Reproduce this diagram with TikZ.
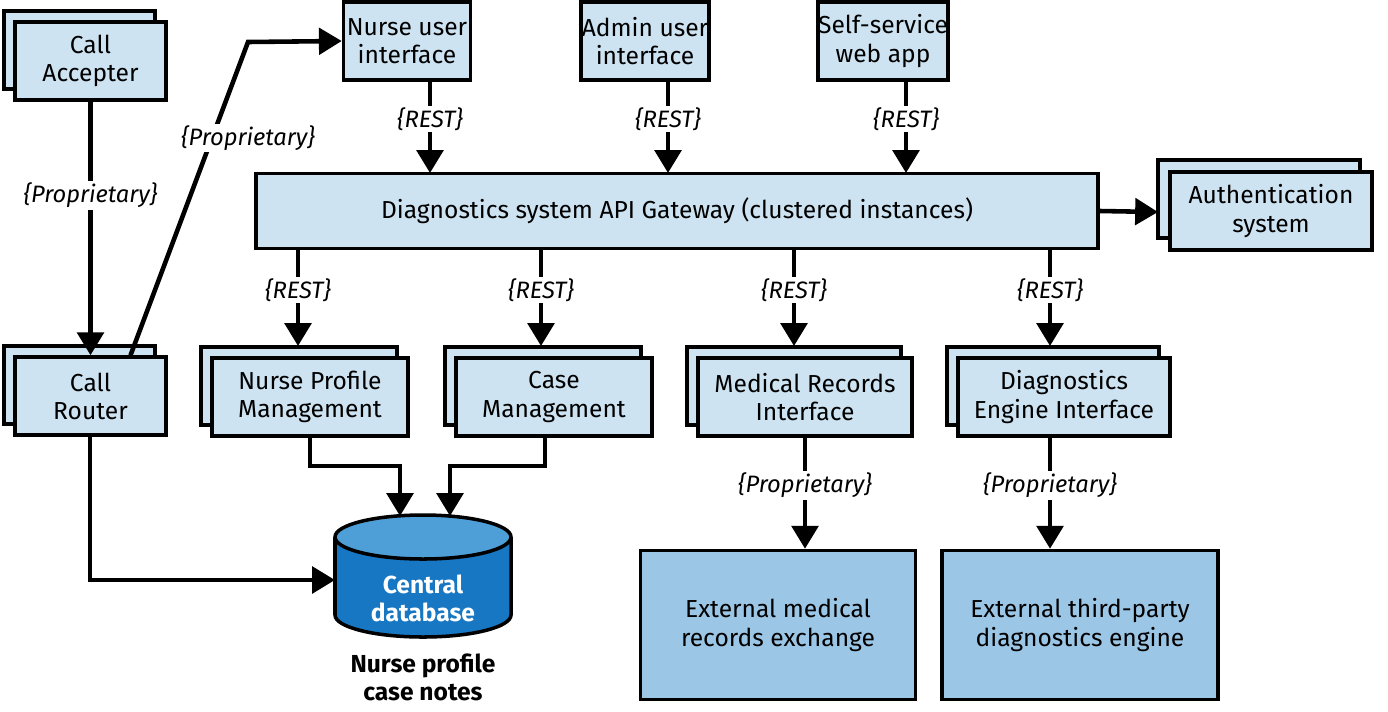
\documentclass[tikz,border=0pt]{standalone}
\usepackage{fontspec}
\setmainfont{Fira Sans}
\usetikzlibrary{arrows.meta,shapes.geometric}
\definecolor{lb}{HTML}{CDE3F1}
\definecolor{xb}{HTML}{9CC6E6}
\definecolor{dbb}{HTML}{1877C2}
\definecolor{dbt}{HTML}{4E9FD8}
\begin{document}
\begin{tikzpicture}[x=0.02cm,y=-0.02cm,
  box/.style={draw,line width=2pt,fill=lb,inner sep=0pt,align=center,font=\fontsize{14}{16}\selectfont},
  ar/.style={line width=2.6pt,-{Triangle[length=13pt,width=15pt]}},
  ln/.style={line width=2.6pt},
  lab/.style={font=\itshape\fontsize{13.5}{15}\selectfont,fill=white,inner sep=1pt}]
\useasboundingbox (0,0) rectangle (1388,711);
\newcommand{\stk}[7]{%
  \draw[line width=2pt,fill=lb] (#2-#7,#3-#7) rectangle (#4-#7,#5-#7);
  \node[box,minimum width={(#4-#2)*0.02cm},minimum height={(#5-#3)*0.02cm}] (#1) at ({(#2+#4)/2},{(#3+#5)/2}) {#6};}
\stk{ca}{15}{22}{166}{100}{Call\\Accepter}{11}
\stk{cr}{15}{357}{166}{435}{Call\\Router}{11}
\stk{np}{212}{358}{408}{436}{Nurse Profile\\Management}{11}
\stk{cm}{456}{358}{652}{436}{Case\\Management}{11}
\stk{mr}{698}{358}{912}{436}{Medical Records\\Interface}{11}
\stk{de}{958}{358}{1170}{436}{Diagnostics\\Engine Interface}{11}
\stk{au}{1170}{172}{1372}{250}{Authentication\\system}{12}
\node[box,minimum width=127*0.02cm,minimum height=78*0.02cm] (nu) at (407,41) {Nurse user\\interface};
\node[box,minimum width=128*0.02cm,minimum height=78*0.02cm] (ad) at (645,41) {Admin user\\interface};
\node[box,minimum width=127*0.02cm,minimum height=78*0.02cm] (ss) at (883,41) {Self-service\\web app};
\node[box,minimum width=842*0.02cm,minimum height=75*0.02cm] (gw) at (677,211) {Diagnostics system API Gateway (clustered instances)};
\node[box,fill=xb,minimum width=275*0.02cm,minimum height=149*0.02cm] (em) at (778,625) {External medical\\records exchange};
\node[box,fill=xb,minimum width=276*0.02cm,minimum height=149*0.02cm] (et) at (1080,625) {External third-party\\diagnostics engine};
\draw[line width=2pt,fill=dbb] (335,537) -- (335,615) arc[start angle=180,end angle=360,x radius=88,y radius=-22] -- (511,537);
\draw[line width=2pt,fill=dbt] (423,537) ellipse[x radius=88,y radius=22];
\node[font=\bfseries\fontsize{14}{16}\selectfont,text=white,align=center] (db) at (423,598) {Central\\database};
\coordinate (dbl) at (335,580);
\node[font=\bfseries\fontsize{14}{16}\selectfont,align=center] (dbn) at (423,677) {Nurse profile\\case notes};
\draw[ar] (ca.south) -- (cr.north -| ca.south) node[lab,pos=0.37]{\{Proprietary\}};
\coordinate (k1) at (248,42);
\draw[ar] ([xshift=40*0.02cm]cr.north) -- (k1) -- (nu.west);
\node[lab] (lp) at (248,138) {\{Proprietary\}};
\foreach \s/\x in {nu/430,ad/668,ss/906}{
  \draw[ar] (\x,80) -- (\x,173) node[lab,pos=0.42]{\{REST\}};}
\draw[ar] (gw.east) -- (1158,212);
\foreach \x in {298,541,794,1050}{
  \draw[ar] (\x,248) -- (\x,346) node[lab,pos=0.43]{\{REST\}};}
\draw[ar] (310,436) -- (310,466) -- (400,466) -- (400,516);
\draw[ar] (545,436) -- (545,466) -- (450,466) -- (450,516);
\draw[ar] (90,435) -- (90,580) -- (dbl);
\draw[ar] (805,436) -- (em.north -| 805,0) node[lab,pos=0.44]{\{Proprietary\}};
\draw[ar] (1050,436) -- (et.north -| 1050,0) node[lab,pos=0.44]{\{Proprietary\}};
\end{tikzpicture}
\end{document}
